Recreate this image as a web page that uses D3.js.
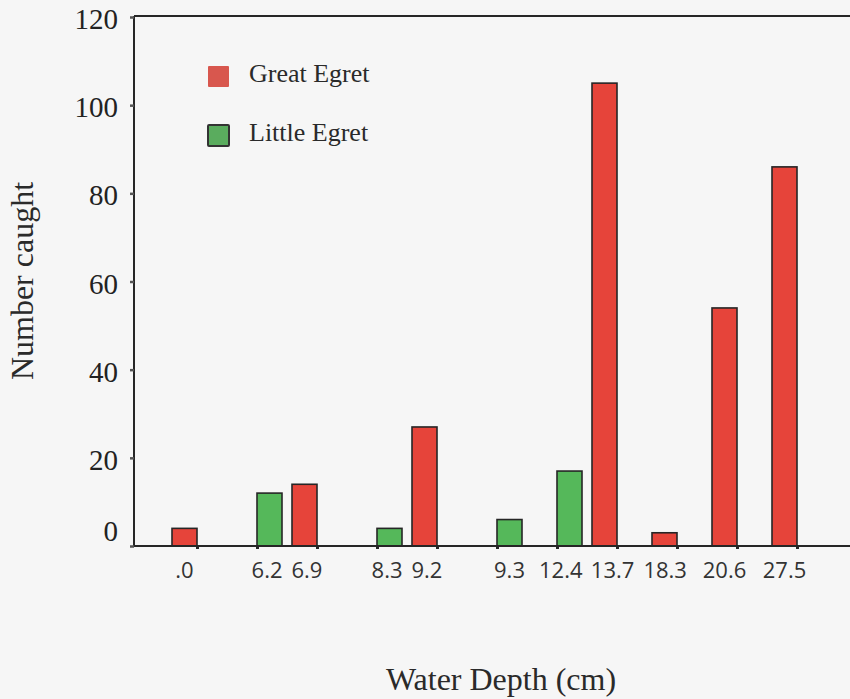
<!DOCTYPE html>
<html>
<head>
<meta charset="utf-8">
<script src="https://cdn.jsdelivr.net/npm/d3@7/dist/d3.min.js"></script>
<style>
  html, body { margin: 0; padding: 0; background: #f6f6f6; }
  svg { display: block; }
</style>
</head>
<body>
<svg id="chart" width="850" height="699"></svg>
<script>
// Water depth classes (cm) and the number of prey caught at each depth
const depths = [".0", "6.2", "6.9", "8.3", "9.2", "9.3", "12.4", "13.7", "18.3", "20.6", "27.5"];
const greatEgret  = [4, null, 14, null, 27, null, null, 105, 3, 54, 86];
const littleEgret = [null, 12, null, 4, null, 6, 17, null, null, null, null];
const yTicks = [0, 20, 40, 60, 80, 100, 120];

const seriesNames = ["Great Egret", "Little Egret"];
const seriesFill = { "Great Egret": "#e6443a", "Little Egret": "#55b85a" };
const legendFill = { "Great Egret": "#d8574e", "Little Egret": "#5aac5e" };

const W = 850, H = 699;
const plotLeft = 134, plotTop = 16, plotBottom = 546, plotRight = 850;
const barW = 25;
const ink = "#262626";
const serif = "'Liberation Serif', 'Times New Roman', serif";

const svg = d3.select("#chart");
svg.append("rect").attr("width", W).attr("height", H).attr("fill", "#f6f6f6");

const x = d3.scalePoint().domain(depths).range([197, 797]);
const y = d3.scaleLinear().domain([0, 120]).range([plotBottom, plotTop + 1]);

// one record per bar; Great Egret bars sit left of their tick, Little Egret bars right of it
const bars = [];
depths.forEach((d, i) => {
  if (greatEgret[i] != null) bars.push({ depth: d, series: "Great Egret", value: greatEgret[i], side: -1 });
  if (littleEgret[i] != null) bars.push({ depth: d, series: "Little Egret", value: littleEgret[i], side: 0 });
});
const barX = b => x(b.depth) + (b.side < 0 ? -barW : 0);

// top rule of the frame
svg.append("line").attr("x1", plotLeft).attr("x2", plotRight).attr("y1", plotTop).attr("y2", plotTop)
  .attr("stroke", ink).attr("stroke-width", 2);

// y axis
const yAxis = svg.append("g").attr("transform", `translate(${plotLeft},0)`)
  .call(d3.axisLeft(y).tickValues(yTicks).tickSize(4).tickPadding(12));
yAxis.select(".domain").attr("stroke", ink).attr("stroke-width", 2)
  .attr("d", `M0,${plotTop}V${plotBottom + 1}`);
yAxis.selectAll(".tick line").attr("stroke", "#555").attr("stroke-width", 2.5);
yAxis.selectAll(".tick text")
  .attr("font-family", serif)
  .attr("font-size", 29).attr("fill", "#222")
  .attr("dy", d => d === 0 ? "-0.2em" : "0.4em");

// bars
svg.append("g").selectAll("rect").data(bars).join("rect")
  .attr("x", barX)
  .attr("y", d => y(d.value))
  .attr("width", barW)
  .attr("height", d => y(0) - y(d.value))
  .attr("fill", d => seriesFill[d.series])
  .attr("stroke", ink).attr("stroke-width", 1.6);

// baseline with category tick marks
const xAxis = svg.append("g").attr("transform", `translate(0,${plotBottom})`)
  .call(d3.axisBottom(x).tickSize(3).tickFormat(""));
xAxis.select(".domain").remove();
xAxis.selectAll(".tick line").attr("stroke", ink).attr("stroke-width", 3);
svg.append("line").attr("x1", plotLeft).attr("x2", plotRight).attr("y1", plotBottom).attr("y2", plotBottom)
  .attr("stroke", ink).attr("stroke-width", 2);

// depth labels under each bar, nudged apart where neighbours would collide
const labels = svg.append("g").selectAll("text").data(bars).join("text")
  .attr("x", d => barX(d) + barW / 2)
  .attr("y", 578)
  .attr("text-anchor", "middle")
  .attr("font-family", "'Open Sans', 'Noto Sans', sans-serif")
  .attr("font-size", 22).attr("fill", "#333")
  .text(d => d.depth);

const placed = [];
labels.each(function(d) {
  placed.push({ node: this, cx: barX(d) + barW / 2, w: this.getComputedTextLength() });
});
const minGap = 9;
for (let i = 1; i < placed.length; i++) {
  const a = placed[i - 1], b = placed[i];
  const overlap = (a.cx + a.w / 2 + minGap) - (b.cx - b.w / 2);
  if (overlap > 0) { a.cx -= overlap / 2; b.cx += overlap / 2; }
}
placed.forEach(p => d3.select(p.node).attr("x", p.cx));

// axis titles
svg.append("text")
  .attr("transform", "translate(33,281) rotate(-90)")
  .attr("text-anchor", "middle")
  .attr("font-family", serif)
  .attr("font-size", 32).attr("fill", "#2a2a2a")
  .text("Number caught");

svg.append("text")
  .attr("x", 501).attr("y", 690)
  .attr("text-anchor", "middle")
  .attr("font-family", serif)
  .attr("font-size", 32).attr("fill", "#2a2a2a")
  .text("Water Depth (cm)");

// legend
const legend = svg.append("g").attr("transform", "translate(208,66)");
const items = legend.selectAll("g").data(seriesNames).join("g")
  .attr("transform", (d, i) => `translate(0,${i * 59})`);
items.append("rect")
  .attr("width", 21).attr("height", 21).attr("rx", 1)
  .attr("fill", d => legendFill[d])
  .attr("stroke", (d, i) => i === 1 ? "#333" : "none")
  .attr("stroke-width", 2);
items.append("text")
  .attr("x", 41).attr("y", 16)
  .attr("font-family", serif)
  .attr("font-size", 26).attr("fill", "#2a2a2a")
  .text(d => d);
</script>
</body>
</html>
